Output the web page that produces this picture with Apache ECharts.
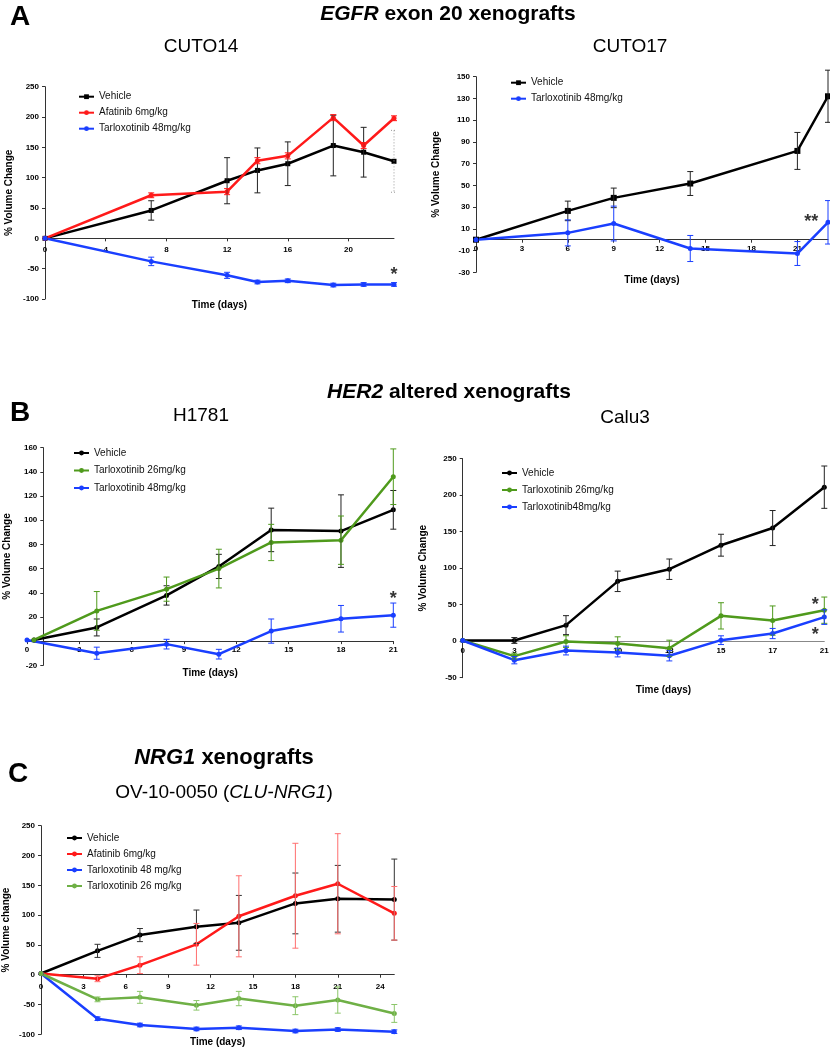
<!DOCTYPE html>
<html><head><meta charset="utf-8">
<script src="https://cdn.jsdelivr.net/npm/echarts@6/dist/echarts.min.js"></script>
<style>html,body{margin:0;padding:0;background:#fff}#c{width:830px;height:1050px}</style>
</head><body><div id="c"></div>
<script>
// ---------- DATA ----------
// Panel A: CUTO14
const cuto14Days = [0, 7, 12, 14, 16, 19, 21, 23];
const cuto14Vehicle = [0, 46, 95, 112, 123, 153, 142, 127];
const cuto14VehicleErr = [0, 16, 38, 37, 36, 50, 41, 51];
const cuto14Afatinib = [0, 71, 77, 128, 136, 199, 153, 198];
const cuto14AfatinibErr = [0, 4, 5, 5, 5, 5, 5, 4];
const cuto14Tarlox48 = [0, -38, -61, -72, -70, -77, -76, -76];
const cuto14Tarlox48Err = [0, 7, 5, 3, 3, 3, 3, 3];
// Panel A: CUTO17
const cuto17Days = [0, 6, 9, 14, 21, 23];
const cuto17Vehicle = [0, 26.5, 38.5, 51.7, 81.7, 132];
const cuto17VehicleErr = [0, 9, 9, 11, 17, 24];
const cuto17Tarlox48 = [0, 6.3, 14.9, -8.1, -12.7, 16];
const cuto17Tarlox48Err = [0, 12, 16, 12, 11, 20];
// Panel B: H1781
const h1781VehicleDays = [0.4, 4, 8, 11, 14, 18, 21];
const h1781Vehicle = [1, 11.3, 37.8, 61.8, 92, 91, 108.6];
const h1781VehicleErr = [0, 7, 8, 10, 18, 30, 16];
const h1781Tarlox26 = [1, 25, 43, 60, 81.6, 83.5, 136];
const h1781Tarlox26Err = [0, 16, 10, 16, 15, 20, 23];
const h1781Tarlox48Days = [0, 4, 8, 11, 14, 18, 21];
const h1781Tarlox48 = [1, -10, -2.5, -10.8, 8.3, 18.5, 21.5];
const h1781Tarlox48Err = [0, 5, 4, 4, 10, 11, 10];
// Panel B: Calu3 (category axis)
const calu3Days = ['0', '3', '6', '10', '13', '15', '17', '21'];
const calu3Vehicle = [1, 1, 22, 82, 98.6, 131.5, 155, 211];
const calu3VehicleErr = [0, 4, 13, 14, 14, 15, 24, 29];
const calu3Tarlox26 = [1, -20.5, -0.5, -3, -9.6, 34.7, 28.3, 42.5];
const calu3Tarlox26Err = [0, 4, 8, 9, 11, 18, 20, 18];
const calu3Tarlox48 = [1, -26, -12.8, -15.5, -20, 1.4, 10.5, 33];
const calu3Tarlox48Err = [0, 5, 6, 6, 7, 6, 7, 10];
// Panel C: OV-10-0050
const ovDays = [0, 4, 7, 11, 14, 18, 21, 25];
const ovVehicle = [2, 40, 66.5, 80.5, 87, 119.6, 127.4, 126];
const ovVehicleErr = [0, 11, 11, 28, 46, 51, 56, 68];
const ovAfatinib = [2, -6.7, 16, 51, 98, 132.5, 152.6, 103];
const ovAfatinibErr = [0, 5, 14, 35, 68, 88, 84, 45];
const ovTarlox48 = [2, -73.8, -84.4, -91, -89, -94.5, -92, -95.6];
const ovTarlox48Err = [0, 3, 3, 3, 3, 3, 3, 3];
const ovTarlox26 = [2, -41.4, -38, -51.4, -40, -52, -42.5, -65];
const ovTarlox26Err = [0, 4, 10, 8, 12, 15, 22, 15];
// significance marks: [panel, x, y, text]
const starMarks = [
  [0, 23, -60, '*'],
  [1, 21.9, 16, '**'],
  [2, 21, 35, '*'],
  [3, 7, 50, '*'],
  [3, 7, 9, '*']
];

// ---------- STYLE ----------
const FONT = '"Liberation Sans", Arial, Helvetica, sans-serif';
const BLACK = '#000000', RED = '#ff1a1a', BLUE = '#1a3fff', GREEN = '#4f9a1c', LGREEN = '#6fb046';
const starLabelShift = {3: [-9, 0]};

const grids = [
  {left: 45, top: 86.7, width: 349, height: 212.3},
  {left: 476, top: 76.7, width: 352, height: 195.6},
  {left: 27, top: 447.7, width: 366.3, height: 217.6},
  {left: 462.7, top: 458.7, width: 361.6, height: 219},
  {left: 41, top: 825.7, width: 353.3, height: 208.6}
].map(g => Object.assign({outerBoundsMode: 'none', containLabel: false}, g));

const yRanges = [[-100, 250, 50], [-30, 150, 20], [-20, 160, 20], [-50, 250, 50], [-100, 250, 50]];
// shift each x axis from the grid bottom up to the value-0 line of its y axis
const zeroOffset = gi => -grids[gi].height * (0 - yRanges[gi][0]) / (yRanges[gi][1] - yRanges[gi][0]);

const tickLbl = {fontSize: 8, fontWeight: 'bold', color: '#000', fontFamily: FONT};
const nameStyle = {fontSize: 10, fontWeight: 'bold', color: '#000', fontFamily: FONT};

function xVal(gi, min, max, interval, gap, showMax, margin) {
  return {type: 'value', gridIndex: gi, position: 'bottom', offset: zeroOffset(gi), min, max, interval,
    name: 'Time (days)', nameLocation: 'middle', nameGap: gap,
    nameTextStyle: nameStyle, axisLine: {onZero: false, lineStyle: {color: '#333', width: 1}}, splitLine: {show: false},
    axisTick: {show: true, length: 3, lineStyle: {color: '#333'}},
    axisLabel: Object.assign({margin: margin, showMaxLabel: showMax, showMinLabel: true}, tickLbl)};
}
function yVal(gi, name, gap, extra) {
  const r = yRanges[gi];
  return Object.assign({type: 'value', gridIndex: gi, min: r[0], max: r[1], interval: r[2], name, nameLocation: 'middle', nameGap: gap,
    nameTextStyle: nameStyle, axisLine: {show: true, onZero: false, lineStyle: {color: '#333', width: 1}}, splitLine: {show: false},
    axisTick: {show: true, length: 3, lineStyle: {color: '#333'}},
    axisLabel: Object.assign({margin: 6}, tickLbl)}, extra || {});
}

const xAxes = [
  xVal(0, 0, 23, 4, 62, false, 7),
  xVal(1, 0, 23, 3, 36, false, 5),
  xVal(2, 0, 21, 3, 27, true, 5),
  {type: 'category', gridIndex: 3, position: 'bottom', offset: zeroOffset(3), data: calu3Days, boundaryGap: false,
    name: 'Time (days)', nameLocation: 'middle', nameGap: 44,
    nameTextStyle: Object.assign({padding: [0, 0, 0, 40]}, nameStyle),
    axisLine: {onZero: false, lineStyle: {color: '#888', width: 1}}, axisTick: {show: false},
    axisLabel: Object.assign({margin: 6, interval: 0}, tickLbl)},
  xVal(4, 0, 25, 3, 63, false, 8)
];
const yAxes = [
  yVal(0, '% Volume Change', 31),
  yVal(1, '% Volume Change', 35),
  yVal(2, '% Volume Change', 31, {offset: -16.3,
    axisLabel: Object.assign({margin: 6, formatter: v => (v === 0 ? '' : String(v))}, tickLbl)}),
  yVal(3, '% Volume Change', 34),
  yVal(4, '% Volume change', 30)
];

const series = [];
function errRender(color, lastDotted) {
  return function (params, api) {
    const x = api.value(0);
    const top = api.coord([x, api.value(2)]);
    const bot = api.coord([x, api.value(1)]);
    const w = 3;
    const dotted = lastDotted && params.dataIndex === params.dataInsideLength - 1;
    const st = dotted ? {stroke: '#999', lineWidth: 1, lineDash: [1, 2]} : {stroke: color, lineWidth: 1};
    return {type: 'group', children: [
      {type: 'line', shape: {x1: top[0], y1: top[1], x2: bot[0], y2: bot[1]}, style: st},
      {type: 'line', shape: {x1: top[0] - w, y1: top[1], x2: top[0] + w, y2: top[1]}, style: st},
      {type: 'line', shape: {x1: bot[0] - w, y1: bot[1], x2: bot[0] + w, y2: bot[1]}, style: st}
    ]};
  };
}
function addLine(gi, id, xs, ys, errs, color, symbol, errColor, size, lastDotted) {
  const data = xs.map((x, i) => [x, ys[i]]);
  series.push({type: 'line', name: id, xAxisIndex: gi, yAxisIndex: gi, data, symbol, symbolSize: size || 5,
    showSymbol: true, lineStyle: {color, width: 2.5}, itemStyle: {color}, z: 3, animation: false, silent: true});
  const edata = [];
  xs.forEach((x, i) => { if (errs[i] > 0) edata.push([x, ys[i] - errs[i], ys[i] + errs[i]]); });
  series.push({type: 'custom', name: id + '#err', xAxisIndex: gi, yAxisIndex: gi, data: edata,
    encode: {x: 0, y: [1, 2]}, renderItem: errRender(errColor || color, lastDotted), z: 4, silent: true, animation: false});
}
const calIdx = calu3Days.map((d, i) => i);

addLine(0, 'Vehicle#A1', cuto14Days, cuto14Vehicle, cuto14VehicleErr, BLACK, 'rect', '#222', 5, true);
addLine(0, 'Afatinib 6mg/kg#A1', cuto14Days, cuto14Afatinib, cuto14AfatinibErr, RED, 'circle');
addLine(0, 'Tarloxotinib 48mg/kg#A1', cuto14Days, cuto14Tarlox48, cuto14Tarlox48Err, BLUE, 'circle');

addLine(1, 'Vehicle#A2', cuto17Days, cuto17Vehicle, cuto17VehicleErr, BLACK, 'rect', '#222', 6);
addLine(1, 'Tarloxotinib 48mg/kg#A2', cuto17Days, cuto17Tarlox48, cuto17Tarlox48Err, BLUE, 'circle');

addLine(2, 'Vehicle#B1', h1781VehicleDays, h1781Vehicle, h1781VehicleErr, BLACK, 'circle', '#222');
addLine(2, 'Tarloxotinib 26mg/kg#B1', h1781VehicleDays, h1781Tarlox26, h1781Tarlox26Err, GREEN, 'circle');
addLine(2, 'Tarloxotinib 48mg/kg#B1', h1781Tarlox48Days, h1781Tarlox48, h1781Tarlox48Err, BLUE, 'circle');

addLine(3, 'Vehicle#B2', calIdx, calu3Vehicle, calu3VehicleErr, BLACK, 'circle', '#222');
addLine(3, 'Tarloxotinib 26mg/kg#B2', calIdx, calu3Tarlox26, calu3Tarlox26Err, GREEN, 'circle');
addLine(3, 'Tarloxotinib48mg/kg#B2', calIdx, calu3Tarlox48, calu3Tarlox48Err, BLUE, 'circle');

addLine(4, 'Vehicle#C', ovDays, ovVehicle, ovVehicleErr, BLACK, 'circle', '#333');
addLine(4, 'Afatinib 6mg/kg#C', ovDays, ovAfatinib, ovAfatinibErr, RED, 'circle', '#ff6f6f');
addLine(4, 'Tarloxotinib 48 mg/kg#C', ovDays, ovTarlox48, ovTarlox48Err, BLUE, 'circle');
addLine(4, 'Tarloxotinib 26 mg/kg#C', ovDays, ovTarlox26, ovTarlox26Err, LGREEN, 'circle', '#8cc66a');

starMarks.forEach(s => {
  series.push({type: 'scatter', xAxisIndex: s[0], yAxisIndex: s[0], data: [[s[1], s[2]]], symbolSize: 1,
    itemStyle: {color: 'rgba(0,0,0,0)'}, silent: true, animation: false, z: 6,
    label: {show: true, position: 'inside', offset: starLabelShift[s[0]] || [0, 0], formatter: s[3],
      fontSize: 18, fontWeight: 'bold', color: '#000', fontFamily: FONT}});
});

function legend(left, top, gap, names) {
  return {orient: 'vertical', left, top, itemGap: gap, itemWidth: 15, itemHeight: 6, padding: 0, selectedMode: false,
    data: names, formatter: n => n.split('#')[0],
    textStyle: {fontSize: 10, lineHeight: 12, color: '#111', fontFamily: FONT}};
}
const legends = [
  legend(78, 90.7, 4, ['Vehicle#A1', 'Afatinib 6mg/kg#A1', 'Tarloxotinib 48mg/kg#A1']),
  legend(510, 76.7, 4, ['Vehicle#A2', 'Tarloxotinib 48mg/kg#A2']),
  legend(73, 447, 5.5, ['Vehicle#B1', 'Tarloxotinib 26mg/kg#B1', 'Tarloxotinib 48mg/kg#B1']),
  legend(501, 467, 5, ['Vehicle#B2', 'Tarloxotinib 26mg/kg#B2', 'Tarloxotinib48mg/kg#B2']),
  legend(66, 832, 4, ['Vehicle#C', 'Afatinib 6mg/kg#C', 'Tarloxotinib 48 mg/kg#C', 'Tarloxotinib 26 mg/kg#C'])
];

function txt(x, y, text, size, weight, rich) {
  const style = {text, fill: '#000', font: weight + ' ' + size + 'px ' + FONT, textAlign: 'center', textVerticalAlign: 'middle'};
  if (rich) style.rich = rich;
  return {type: 'text', x, y, style, silent: true};
}
const boldRich = s => ({i: {fontStyle: 'italic', fontWeight: 'bold', fontSize: s, fontFamily: FONT, fill: '#000'},
  n: {fontWeight: 'bold', fontSize: s, fontFamily: FONT, fill: '#000'}});
const regRich = s => ({i: {fontStyle: 'italic', fontSize: s, fontFamily: FONT, fill: '#000'},
  n: {fontSize: s, fontFamily: FONT, fill: '#000'}});

const graphics = [
  txt(20, 17, 'A', 28, 'bold'),
  txt(448, 14, '{i|EGFR}{n| exon 20 xenografts}', 21, 'bold', boldRich(21)),
  txt(201, 47, 'CUTO14', 19, 'normal'),
  txt(630, 47, 'CUTO17', 19, 'normal'),
  txt(20, 413, 'B', 28, 'bold'),
  txt(449, 392, '{i|HER2}{n| altered xenografts}', 21, 'bold', boldRich(21)),
  txt(201, 416, 'H1781', 19, 'normal'),
  txt(625, 418, 'Calu3', 19, 'normal'),
  txt(18, 774, 'C', 28, 'bold'),
  txt(224, 758, '{i|NRG1}{n| xenografts}', 22, 'bold', boldRich(22)),
  txt(224, 793, '{n|OV-10-0050 (}{i|CLU-NRG1}{n|)}', 19, 'normal', regRich(19))
];

const chart = echarts.init(document.getElementById('c'));
chart.setOption({
  animation: false,
  backgroundColor: '#fff',
  textStyle: {fontFamily: FONT},
  grid: grids,
  xAxis: xAxes,
  yAxis: yAxes,
  legend: legends,
  series,
  graphic: graphics
});
</script></body></html>
